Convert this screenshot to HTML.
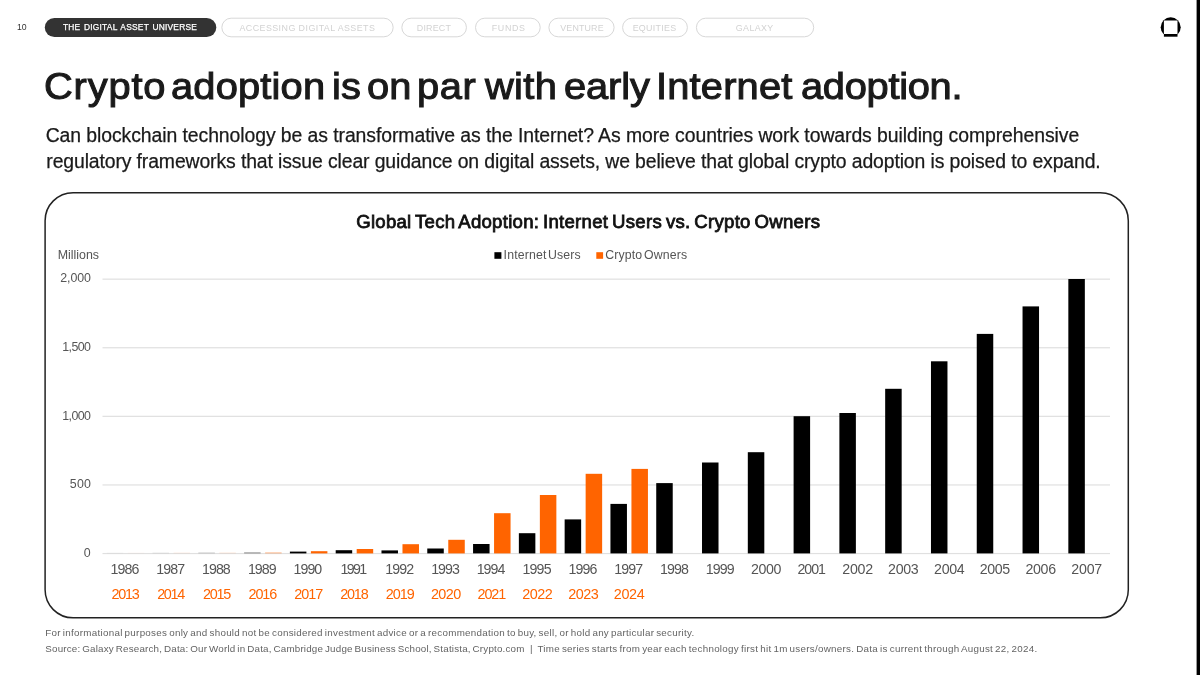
<!DOCTYPE html>
<html><head><meta charset="utf-8"><title>Crypto adoption</title>
<style>
html,body{margin:0;padding:0;background:#fff;}
body{width:1200px;height:675px;position:relative;overflow:hidden;font-family:"Liberation Sans",sans-serif;color:#1a1a1a;}
.abs{position:absolute;}
.t{position:absolute;white-space:pre;}
</style></head><body>
<svg class="abs" style="left:1158px;top:14px" width="26" height="26" viewBox="1158 14 26 26">
<defs><clipPath id="c"><rect x="1158" y="14" width="26" height="20.2"/></clipPath></defs>
<circle cx="1170.7" cy="27.3" r="10" fill="#000" clip-path="url(#c)"/>
<rect x="1163.9" y="33.8" width="13.6" height="2.9" fill="#000"/>
<rect x="1163.9" y="20.5" width="13.6" height="13.5" fill="#fff"/>
</svg>
<svg class="abs" style="left:0;top:0" width="1200" height="675" viewBox="0 0 1200 675">
<rect x="44.8" y="17.9" width="171.5" height="19.2" rx="9.6" fill="#333"/>
<g fill="none" stroke="#d8d8d8" stroke-width="1">
<rect x="221.85" y="18.2" width="171.3" height="18.6" rx="9.3"/>
<rect x="401.85" y="18.2" width="64.6" height="18.6" rx="9.3"/>
<rect x="475.5" y="18.2" width="64.7" height="18.6" rx="9.3"/>
<rect x="548.9" y="18.2" width="65.2" height="18.6" rx="9.3"/>
<rect x="622.6" y="18.2" width="64.8" height="18.6" rx="9.3"/>
<rect x="696.4" y="18.2" width="117.3" height="18.6" rx="9.3"/>
</g>
<rect x="1196.6" y="0" width="3.4" height="675" fill="#000"/>
<rect x="494.4" y="252.2" width="7" height="6.6" fill="#000"/>
<rect x="596.3" y="252.2" width="6.8" height="6.6" fill="#ff6400"/>
<rect x="45.1" y="192.7" width="1083.2" height="425.1" rx="28" fill="none" stroke="#222" stroke-width="1.5"/>
<rect x="102.5" y="278.55" width="1007.5" height="1.2" fill="#e0e0e0"/>
<rect x="102.5" y="347.15" width="1007.5" height="1.2" fill="#e0e0e0"/>
<rect x="102.5" y="415.75" width="1007.5" height="1.2" fill="#e0e0e0"/>
<rect x="102.5" y="484.35" width="1007.5" height="1.2" fill="#e0e0e0"/>
<rect x="102.5" y="552.95" width="1007.5" height="1.2" fill="#e0e0e0"/>
<rect x="106.75" y="552.40" width="16.5" height="1.00" fill="#000" opacity="0.03"/>
<rect x="152.53" y="552.40" width="16.5" height="1.00" fill="#000" opacity="0.07"/>
<rect x="198.33" y="552.40" width="16.5" height="1.00" fill="#000" opacity="0.18"/>
<rect x="244.11" y="552.40" width="16.5" height="1.00" fill="#000" opacity="0.45"/>
<rect x="289.90" y="551.60" width="16.5" height="1.80" fill="#000" opacity="1.00"/>
<rect x="335.69" y="550.20" width="16.5" height="3.20" fill="#000" opacity="1.00"/>
<rect x="381.48" y="550.40" width="16.5" height="3.00" fill="#000" opacity="1.00"/>
<rect x="427.27" y="548.50" width="16.5" height="4.90" fill="#000" opacity="1.00"/>
<rect x="473.06" y="544.00" width="16.5" height="9.40" fill="#000" opacity="1.00"/>
<rect x="518.86" y="533.20" width="16.5" height="20.20" fill="#000" opacity="1.00"/>
<rect x="564.64" y="519.40" width="16.5" height="34.00" fill="#000" opacity="1.00"/>
<rect x="610.44" y="503.90" width="16.5" height="49.50" fill="#000" opacity="1.00"/>
<rect x="656.23" y="483.10" width="16.5" height="70.30" fill="#000" opacity="1.00"/>
<rect x="702.01" y="462.50" width="16.5" height="90.90" fill="#000" opacity="1.00"/>
<rect x="747.81" y="452.20" width="16.5" height="101.20" fill="#000" opacity="1.00"/>
<rect x="793.60" y="416.20" width="16.5" height="137.20" fill="#000" opacity="1.00"/>
<rect x="839.38" y="413.00" width="16.5" height="140.40" fill="#000" opacity="1.00"/>
<rect x="885.17" y="388.80" width="16.5" height="164.60" fill="#000" opacity="1.00"/>
<rect x="930.97" y="361.30" width="16.5" height="192.10" fill="#000" opacity="1.00"/>
<rect x="976.75" y="333.90" width="16.5" height="219.50" fill="#000" opacity="1.00"/>
<rect x="1022.54" y="306.40" width="16.5" height="247.00" fill="#000" opacity="1.00"/>
<rect x="1068.34" y="279.00" width="16.5" height="274.40" fill="#000" opacity="1.00"/>
<rect x="127.75" y="552.40" width="16.5" height="1.00" fill="#ff6400" opacity="0.03"/>
<rect x="173.53" y="552.40" width="16.5" height="1.00" fill="#ff6400" opacity="0.08"/>
<rect x="219.33" y="552.40" width="16.5" height="1.00" fill="#ff6400" opacity="0.12"/>
<rect x="265.11" y="552.40" width="16.5" height="1.00" fill="#ff6400" opacity="0.45"/>
<rect x="310.90" y="551.20" width="16.5" height="2.20" fill="#ff6400" opacity="1.00"/>
<rect x="356.69" y="549.00" width="16.5" height="4.40" fill="#ff6400" opacity="1.00"/>
<rect x="402.48" y="544.20" width="16.5" height="9.20" fill="#ff6400" opacity="1.00"/>
<rect x="448.27" y="539.80" width="16.5" height="13.60" fill="#ff6400" opacity="1.00"/>
<rect x="494.06" y="513.20" width="16.5" height="40.20" fill="#ff6400" opacity="1.00"/>
<rect x="539.86" y="495.00" width="16.5" height="58.40" fill="#ff6400" opacity="1.00"/>
<rect x="585.64" y="473.80" width="16.5" height="79.60" fill="#ff6400" opacity="1.00"/>
<rect x="631.44" y="468.90" width="16.5" height="84.50" fill="#ff6400" opacity="1.00"/>
</svg>
<div class="t" id="pg" style="left:16.99px;top:21.69px;font-size:8.7px;line-height:11px;letter-spacing:-0.148px;color:#333;">10</div>
<div class="t" id="p0" style="left:62.92px;top:21.89px;font-size:8.4px;line-height:11px;letter-spacing:0.237px;color:#fff;-webkit-text-stroke:0.25px #fff;word-spacing:1px;">THE DIGITAL ASSET UNIVERSE</div>
<div class="t" id="p1" style="left:239.49px;top:21.92px;font-size:8.9px;line-height:12px;letter-spacing:0.440px;color:#d2d2d2;">ACCESSING DIGITAL ASSETS</div>
<div class="t" id="p2" style="left:416.78px;top:21.92px;font-size:8.9px;line-height:12px;letter-spacing:0.211px;color:#d2d2d2;">DIRECT</div>
<div class="t" id="p3" style="left:491.79px;top:21.92px;font-size:8.9px;line-height:12px;letter-spacing:0.634px;color:#d2d2d2;">FUNDS</div>
<div class="t" id="p4" style="left:560.32px;top:21.92px;font-size:8.9px;line-height:12px;letter-spacing:0.142px;color:#d2d2d2;">VENTURE</div>
<div class="t" id="p5" style="left:632.66px;top:21.92px;font-size:8.9px;line-height:12px;letter-spacing:0.298px;color:#d2d2d2;">EQUITIES</div>
<div class="t" id="p6" style="left:735.85px;top:21.92px;font-size:8.9px;line-height:12px;letter-spacing:0.365px;color:#d2d2d2;">GALAXY</div>
<h1 style="margin:0;font-weight:normal;font-size:inherit"><span class="t" id="tw0" style="left:44.14px;top:61.87px;font-size:37.6px;line-height:49px;letter-spacing:0.780px;color:#1a1a1a;-webkit-text-stroke:1.05px #1a1a1a;transform:scaleX(1.06);transform-origin:0 50%;">Crypto</span>
<span class="t" id="tw1" style="left:171.49px;top:61.87px;font-size:37.6px;line-height:49px;letter-spacing:0.172px;color:#1a1a1a;-webkit-text-stroke:1.05px #1a1a1a;transform:scaleX(1.06);transform-origin:0 50%;">adoption</span>
<span class="t" id="tw2" style="left:331.51px;top:61.87px;font-size:37.6px;line-height:49px;letter-spacing:0.166px;color:#1a1a1a;-webkit-text-stroke:1.05px #1a1a1a;transform:scaleX(1.06);transform-origin:0 50%;">is</span>
<span class="t" id="tw3" style="left:367.25px;top:61.87px;font-size:37.6px;line-height:49px;letter-spacing:0.201px;color:#1a1a1a;-webkit-text-stroke:1.05px #1a1a1a;transform:scaleX(1.06);transform-origin:0 50%;">on</span>
<span class="t" id="tw4" style="left:417.49px;top:61.87px;font-size:37.6px;line-height:49px;letter-spacing:0.609px;color:#1a1a1a;-webkit-text-stroke:1.05px #1a1a1a;transform:scaleX(1.06);transform-origin:0 50%;">par</span>
<span class="t" id="tw5" style="left:485.10px;top:61.87px;font-size:37.6px;line-height:49px;letter-spacing:0.299px;color:#1a1a1a;-webkit-text-stroke:1.05px #1a1a1a;transform:scaleX(1.06);transform-origin:0 50%;">with</span>
<span class="t" id="tw6" style="left:563.90px;top:61.87px;font-size:37.6px;line-height:49px;letter-spacing:-0.125px;color:#1a1a1a;-webkit-text-stroke:1.05px #1a1a1a;transform:scaleX(1.06);transform-origin:0 50%;">early</span>
<span class="t" id="tw7" style="left:656.48px;top:61.87px;font-size:37.6px;line-height:49px;letter-spacing:0.171px;color:#1a1a1a;-webkit-text-stroke:1.05px #1a1a1a;transform:scaleX(1.06);transform-origin:0 50%;">Internet</span>
<span class="t" id="tw8" style="left:801.49px;top:61.87px;font-size:37.6px;line-height:49px;letter-spacing:-0.290px;color:#1a1a1a;-webkit-text-stroke:1.05px #1a1a1a;transform:scaleX(1.06);transform-origin:0 50%;">adoption.</span></h1>
<div class="t" id="sub1" style="left:45.65px;top:122.58px;font-size:19.4px;line-height:25px;letter-spacing:-0.075px;color:#1a1a1a;-webkit-text-stroke:0.25px #1a1a1a;">Can blockchain technology be as transformative as the Internet? As more countries work towards building comprehensive</div>
<div class="t" id="sub2" style="left:46.31px;top:148.68px;font-size:19.4px;line-height:25px;letter-spacing:-0.119px;color:#1a1a1a;-webkit-text-stroke:0.25px #1a1a1a;">regulatory frameworks that issue clear guidance on digital assets, we believe that global crypto adoption is poised to expand.</div>
<div class="t" id="ctitle" style="left:356.18px;top:210.16px;font-size:18.6px;line-height:24px;letter-spacing:0.258px;color:#111;-webkit-text-stroke:0.8px #111;word-spacing:-1.5px;">Global Tech Adoption: Internet Users vs. Crypto Owners</div>
<div class="t" id="mil" style="left:57.80px;top:247.30px;font-size:12.4px;line-height:16px;letter-spacing:-0.013px;color:#555;">Millions</div>
<div class="t" id="lg1" style="left:503.62px;top:246.64px;font-size:12.3px;line-height:16px;letter-spacing:0.141px;color:#555;word-spacing:-2px;">Internet Users</div>
<div class="t" id="lg2" style="left:605.14px;top:246.64px;font-size:12.3px;line-height:16px;letter-spacing:0.164px;color:#555;word-spacing:-2px;">Crypto Owners</div>
<div class="t" id="f1" style="left:45.31px;top:625.90px;font-size:9.8px;line-height:13px;letter-spacing:0.283px;color:#636363;word-spacing:-1px;">For informational purposes only and should not be considered investment advice or a recommendation to buy, sell, or hold any particular security.</div>
<div class="t" id="f2a" style="left:45.31px;top:642.10px;font-size:9.8px;line-height:13px;letter-spacing:0.187px;color:#636363;word-spacing:-1px;">Source: Galaxy Research, Data: Our World in Data, Cambridge Judge Business School, Statista, Crypto.com</div>
<div class="t" id="f2b" style="left:530.09px;top:642.10px;font-size:9.8px;line-height:13px;letter-spacing:-0.473px;color:#636363;">|</div>
<div class="t" id="f2c" style="left:537.38px;top:642.10px;font-size:9.8px;line-height:13px;letter-spacing:0.284px;color:#636363;word-spacing:-1px;">Time series starts from year each technology first hit 1m users/owners. Data is current through August 22, 2024.</div>
<div class="t" id="y2000" style="left:60.24px;top:270.10px;font-size:12.4px;line-height:16px;letter-spacing:-0.058px;color:#555;">2,000</div>
<div class="t" id="y1500" style="left:62.16px;top:338.70px;font-size:12.4px;line-height:16px;letter-spacing:-0.538px;color:#555;">1,500</div>
<div class="t" id="y1000" style="left:62.16px;top:407.80px;font-size:12.4px;line-height:16px;letter-spacing:-0.538px;color:#555;">1,000</div>
<div class="t" id="y500" style="left:69.67px;top:475.90px;font-size:12.4px;line-height:16px;letter-spacing:0.334px;color:#555;">500</div>
<div class="t" id="y0" style="left:83.65px;top:544.50px;font-size:12.4px;line-height:16px;letter-spacing:1.306px;color:#555;">0</div>
<div class="t" id="b1986" style="left:110.45px;top:560.38px;font-size:14.2px;line-height:18px;letter-spacing:-0.908px;color:#555;">1986</div>
<div class="t" id="b1987" style="left:156.21px;top:560.38px;font-size:14.2px;line-height:18px;letter-spacing:-0.883px;color:#555;">1987</div>
<div class="t" id="b1988" style="left:202.09px;top:560.38px;font-size:14.2px;line-height:18px;letter-spacing:-0.966px;color:#555;">1988</div>
<div class="t" id="b1989" style="left:247.90px;top:560.38px;font-size:14.2px;line-height:18px;letter-spacing:-0.907px;color:#555;">1989</div>
<div class="t" id="b1990" style="left:293.57px;top:560.38px;font-size:14.2px;line-height:18px;letter-spacing:-0.964px;color:#555;">1990</div>
<div class="t" id="b1991" style="left:340.53px;top:560.38px;font-size:14.2px;line-height:18px;letter-spacing:-1.679px;color:#555;">1991</div>
<div class="t" id="b1992" style="left:385.24px;top:560.38px;font-size:14.2px;line-height:18px;letter-spacing:-0.912px;color:#555;">1992</div>
<div class="t" id="b1993" style="left:431.13px;top:560.38px;font-size:14.2px;line-height:18px;letter-spacing:-0.926px;color:#555;">1993</div>
<div class="t" id="b1994" style="left:476.70px;top:560.38px;font-size:14.2px;line-height:18px;letter-spacing:-0.954px;color:#555;">1994</div>
<div class="t" id="b1995" style="left:522.53px;top:560.38px;font-size:14.2px;line-height:18px;letter-spacing:-0.836px;color:#555;">1995</div>
<div class="t" id="b1996" style="left:568.53px;top:560.38px;font-size:14.2px;line-height:18px;letter-spacing:-0.925px;color:#555;">1996</div>
<div class="t" id="b1997" style="left:614.29px;top:560.38px;font-size:14.2px;line-height:18px;letter-spacing:-0.907px;color:#555;">1997</div>
<div class="t" id="b1998" style="left:659.93px;top:560.38px;font-size:14.2px;line-height:18px;letter-spacing:-0.858px;color:#555;">1998</div>
<div class="t" id="b1999" style="left:705.66px;top:560.38px;font-size:14.2px;line-height:18px;letter-spacing:-0.847px;color:#555;">1999</div>
<div class="t" id="b2000" style="left:750.91px;top:560.38px;font-size:14.2px;line-height:18px;letter-spacing:-0.394px;color:#555;">2000</div>
<div class="t" id="b2001" style="left:797.50px;top:560.38px;font-size:14.2px;line-height:18px;letter-spacing:-1.055px;color:#555;">2001</div>
<div class="t" id="b2002" style="left:842.27px;top:560.38px;font-size:14.2px;line-height:18px;letter-spacing:-0.251px;color:#555;">2002</div>
<div class="t" id="b2003" style="left:888.11px;top:560.38px;font-size:14.2px;line-height:18px;letter-spacing:-0.338px;color:#555;">2003</div>
<div class="t" id="b2004" style="left:934.09px;top:560.38px;font-size:14.2px;line-height:18px;letter-spacing:-0.293px;color:#555;">2004</div>
<div class="t" id="b2005" style="left:979.85px;top:560.38px;font-size:14.2px;line-height:18px;letter-spacing:-0.392px;color:#555;">2005</div>
<div class="t" id="b2006" style="left:1025.50px;top:560.38px;font-size:14.2px;line-height:18px;letter-spacing:-0.330px;color:#555;">2006</div>
<div class="t" id="b2007" style="left:1071.30px;top:560.38px;font-size:14.2px;line-height:18px;letter-spacing:-0.209px;color:#555;">2007</div>
<div class="t" id="o2013" style="left:111.38px;top:584.51px;font-size:14.4px;line-height:19px;letter-spacing:-1.191px;color:#ff6400;">2013</div>
<div class="t" id="o2014" style="left:157.14px;top:584.51px;font-size:14.4px;line-height:19px;letter-spacing:-1.329px;color:#ff6400;">2014</div>
<div class="t" id="o2015" style="left:202.90px;top:584.51px;font-size:14.4px;line-height:19px;letter-spacing:-1.176px;color:#ff6400;">2015</div>
<div class="t" id="o2016" style="left:248.54px;top:584.51px;font-size:14.4px;line-height:19px;letter-spacing:-1.123px;color:#ff6400;">2016</div>
<div class="t" id="o2017" style="left:294.33px;top:584.51px;font-size:14.4px;line-height:19px;letter-spacing:-0.995px;color:#ff6400;">2017</div>
<div class="t" id="o2018" style="left:340.18px;top:584.51px;font-size:14.4px;line-height:19px;letter-spacing:-1.172px;color:#ff6400;">2018</div>
<div class="t" id="o2019" style="left:385.80px;top:584.51px;font-size:14.4px;line-height:19px;letter-spacing:-1.022px;color:#ff6400;">2019</div>
<div class="t" id="o2020" style="left:430.90px;top:584.51px;font-size:14.4px;line-height:19px;letter-spacing:-0.571px;color:#ff6400;">2020</div>
<div class="t" id="o2021" style="left:477.52px;top:584.51px;font-size:14.4px;line-height:19px;letter-spacing:-1.128px;color:#ff6400;">2021</div>
<div class="t" id="o2022" style="left:522.33px;top:584.51px;font-size:14.4px;line-height:19px;letter-spacing:-0.489px;color:#ff6400;">2022</div>
<div class="t" id="o2023" style="left:568.18px;top:584.51px;font-size:14.4px;line-height:19px;letter-spacing:-0.458px;color:#ff6400;">2023</div>
<div class="t" id="o2024" style="left:613.80px;top:584.51px;font-size:14.4px;line-height:19px;letter-spacing:-0.378px;color:#ff6400;">2024</div>
</body></html>
